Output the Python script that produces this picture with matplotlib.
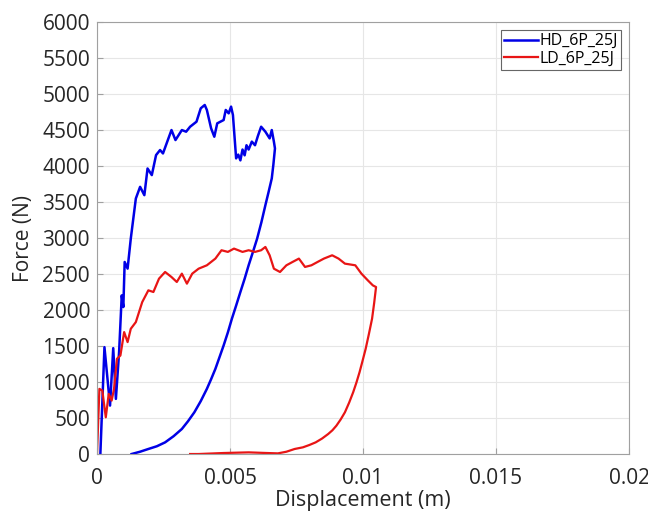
import matplotlib
matplotlib.use('Agg')
import matplotlib.pyplot as plt

# HD_6P_25J : loading then unloading path (displacement m, force N)
hd_disp = [0.000126, 0.00028, 0.00049, 0.00061, 0.00071, 0.00083, 0.00093, 0.00099, 0.00104,
           0.00115, 0.00127, 0.00146, 0.00162, 0.00178, 0.0019, 0.00206, 0.00222, 0.00237,
           0.00248, 0.00264, 0.0028, 0.00295, 0.00319, 0.00335, 0.0035, 0.00374, 0.0039,
           0.00405, 0.00413, 0.00429, 0.00441, 0.00452, 0.00476, 0.00484, 0.00495, 0.00504,
           0.00511, 0.00523, 0.00531, 0.00539, 0.00547, 0.00555, 0.00562, 0.0057, 0.00582,
           0.00594, 0.00605, 0.00617, 0.00633, 0.00649, 0.00657, 0.00665, 0.00669,
           0.00663, 0.00657, 0.00645, 0.00633, 0.00618, 0.00602, 0.00586, 0.0057, 0.00555,
           0.00539, 0.00523, 0.00507, 0.00492, 0.00476, 0.0046, 0.00445, 0.00429, 0.00413,
           0.0039, 0.00366, 0.00342, 0.00319, 0.00288, 0.00256, 0.00225, 0.00193, 0.00162,
           0.0013]
hd_force = [0, 1485, 673, 1471, 766, 1415, 2204, 2042, 2668,
            2576, 2993, 3550, 3712, 3596, 3967, 3875, 4153, 4223,
            4176, 4339, 4501, 4362, 4501, 4478, 4547, 4617, 4803,
            4849, 4780, 4524, 4408, 4594, 4640, 4780, 4733, 4826,
            4710, 4107, 4160, 4080, 4230, 4150, 4290, 4230, 4340,
            4290, 4420, 4547, 4478, 4385, 4501, 4339, 4246,
            4020, 3829, 3640, 3457, 3220, 2993, 2805, 2622, 2435,
            2251, 2062, 1879, 1690, 1508, 1340, 1183, 1040, 905,
            735, 580, 455, 348, 248, 162, 108, 70, 32,
            0]

# LD_6P_25J
ld_disp = [0.0, 0.00009, 0.0002, 0.00033, 0.00044, 0.00055, 0.00064, 0.00075, 0.00088,
           0.00102, 0.00115, 0.00127, 0.00146, 0.0017, 0.00193, 0.00212, 0.00233, 0.00256,
           0.0028, 0.003, 0.00319, 0.00338, 0.00358, 0.00382, 0.00413, 0.00445, 0.00468,
           0.00492, 0.00515, 0.00547, 0.0057, 0.00594, 0.00617, 0.00633, 0.00649, 0.00665,
           0.00688, 0.00712, 0.00735, 0.00759, 0.00782, 0.00806, 0.00829, 0.00853, 0.00884,
           0.00908, 0.00932, 0.00971, 0.00994, 0.01018, 0.01037, 0.01049,
           0.01042, 0.01034, 0.01022, 0.0101, 0.00998, 0.00987, 0.00975, 0.00963, 0.00948,
           0.00932, 0.00916, 0.009, 0.00885, 0.00869, 0.00846, 0.00822, 0.00798, 0.00774,
           0.00743, 0.00712, 0.0068, 0.0063, 0.0057, 0.00476, 0.00382, 0.0035]
ld_force = [0, 905, 882, 510, 835, 742, 905, 1323, 1369,
            1694, 1555, 1740, 1833, 2111, 2274, 2251, 2436, 2529,
            2459, 2390, 2506, 2367, 2506, 2575, 2622, 2715, 2831,
            2808, 2854, 2808, 2831, 2808, 2831, 2877, 2761, 2575,
            2529, 2622, 2668, 2715, 2599, 2622, 2668, 2715, 2761,
            2715, 2645, 2622, 2506, 2413, 2343, 2320,
            2100, 1879, 1665, 1462, 1290, 1137, 990, 858, 715,
            580, 480, 394, 330, 278, 215, 162, 125, 93,
            70, 32, 9, 15, 23, 14, 0, 0]

x_ticks = [0, 0.005, 0.01, 0.015, 0.02]
x_tick_labels = ['0', '0.005', '0.01', '0.015', '0.02']
y_ticks = list(range(0, 6001, 500))

plt.rcParams['font.family'] = ['Open Sans', 'DejaVu Sans']

fig = plt.figure(figsize=(6.48, 5.15), dpi=100)
ax = fig.add_axes([0.1497, 0.1184, 0.821, 0.8386])

ax.plot(hd_disp, hd_force, color='#0000e6', lw=1.8, label='HD_6P_25J')
ax.plot(ld_disp, ld_force, color='#e81515', lw=1.6, label='LD_6P_25J')

ax.set_xlim(0, 0.02)
ax.set_ylim(0, 6000)
ax.set_xticks(x_ticks)
ax.set_xticklabels(x_tick_labels)
ax.set_yticks(y_ticks)
ax.grid(True, color='#e6e6e6', lw=0.8)
ax.set_axisbelow(True)
for s in ax.spines.values():
    s.set_color('#a0a0a0')
ax.tick_params(direction='in', length=4, color='#a0a0a0', labelsize=15,
               labelcolor='#262626')
ax.tick_params(axis='x', pad=10)
ax.tick_params(axis='y', pad=5)
# keep the x label just inside the bottom edge
ax.set_xlabel('Displacement (m)', fontsize=15.5, color='#262626', labelpad=1)
ax.set_ylabel('Force (N)', fontsize=15, color='#262626', labelpad=6)

leg = ax.legend(loc='upper right', fontsize=11.5, frameon=True, fancybox=False,
                edgecolor='#404040', handlelength=2.1, handletextpad=0.1,
                borderpad=0.2, labelspacing=0.1, borderaxespad=0.5)
leg.get_frame().set_linewidth(0.8)

fig.savefig('out.png', dpi=100)
